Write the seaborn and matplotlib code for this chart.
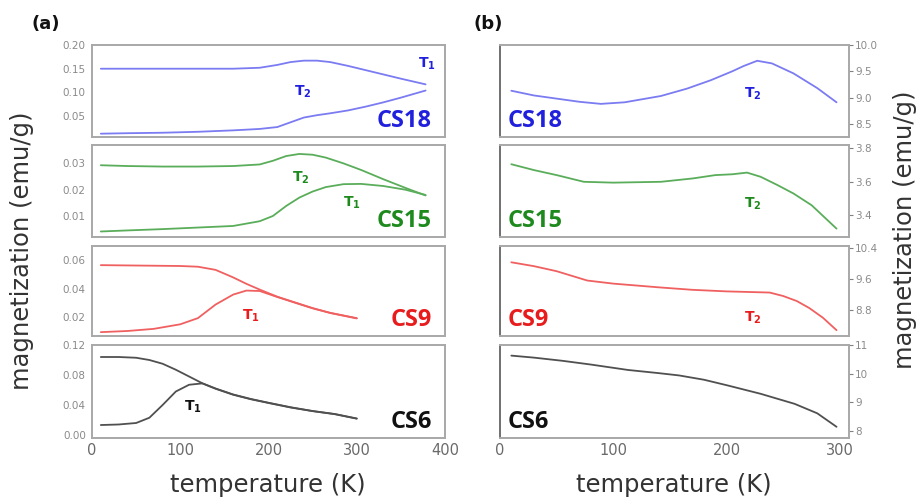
import numpy as np
import pandas as pd
import seaborn as sns
import matplotlib.pyplot as plt

# ---- (a) M(T), ZFC and FC ----
t_cs18_a = [10, 40, 80, 120, 160, 190, 210, 225, 240, 255, 270, 290, 310, 330, 350, 378]
cs18_fc = [0.150, 0.150, 0.150, 0.150, 0.150, 0.152, 0.158, 0.164, 0.167, 0.167, 0.164, 0.156, 0.147, 0.138, 0.129, 0.117]
cs18_zfc = [0.013, 0.014, 0.015, 0.017, 0.020, 0.023, 0.027, 0.037, 0.047, 0.052, 0.056, 0.062, 0.070, 0.079, 0.089, 0.104]

t_cs15_a = [10, 40, 80, 120, 160, 190, 205, 220, 235, 250, 265, 285, 305, 330, 355, 378]
cs15_fc = [0.0293, 0.0290, 0.0288, 0.0288, 0.0290, 0.0296, 0.0310, 0.0328, 0.0336, 0.0333, 0.0322, 0.0300, 0.0275, 0.0240, 0.0207, 0.0178]
cs15_zfc = [0.0041, 0.0045, 0.0050, 0.0056, 0.0062, 0.0080, 0.0100, 0.0138, 0.0170, 0.0193, 0.0210, 0.0221, 0.0222, 0.0214, 0.0200, 0.0180]

t_cs9_a = [10, 40, 70, 100, 120, 140, 160, 175, 190, 210, 230, 250, 270, 300]
cs9_fc = [0.0566, 0.0564, 0.0562, 0.0560, 0.0555, 0.0533, 0.0480, 0.0435, 0.0395, 0.0345, 0.0305, 0.0265, 0.0232, 0.0195]
cs9_zfc = [0.0097, 0.0105, 0.0120, 0.0152, 0.0195, 0.0290, 0.0360, 0.0388, 0.0385, 0.0343, 0.0303, 0.0264, 0.0231, 0.0193]

t_cs6_a = [10, 30, 50, 65, 80, 95, 110, 125, 140, 160, 180, 200, 225, 250, 275, 300]
cs6_fc = [0.104, 0.104, 0.103, 0.100, 0.095, 0.087, 0.078, 0.069, 0.062, 0.054, 0.048, 0.043, 0.037, 0.032, 0.028, 0.022]
cs6_zfc = [0.0133, 0.0140, 0.0160, 0.0230, 0.0400, 0.0580, 0.0670, 0.0688, 0.0617, 0.0537, 0.0477, 0.0427, 0.0367, 0.0318, 0.0278, 0.0218]

# ---- (b) high field M(T) ----
t_cs18_b = [10, 30, 50, 70, 89, 110, 142, 165, 186, 205, 215, 227, 240, 259, 280, 297]
cs18_b = [9.13, 9.04, 8.98, 8.92, 8.88, 8.91, 9.03, 9.17, 9.33, 9.50, 9.60, 9.70, 9.65, 9.46, 9.18, 8.91]
t_cs15_b = [10, 30, 50, 74, 100, 142, 170, 190, 205, 218, 230, 245, 259, 275, 297]
cs15_b = [3.705, 3.67, 3.64, 3.60, 3.595, 3.60, 3.62, 3.64, 3.645, 3.655, 3.63, 3.58, 3.53, 3.46, 3.32]
t_cs9_b = [10, 30, 50, 77, 100, 142, 170, 200, 238, 250, 262, 273, 285, 297]
cs9_b = [10.03, 9.93, 9.80, 9.56, 9.48, 9.38, 9.32, 9.28, 9.25, 9.16, 9.03, 8.85, 8.60, 8.28]
t_cs6_b = [10, 30, 55, 80, 113, 140, 158, 180, 201, 230, 260, 280, 297]
cs6_b = [10.63, 10.56, 10.45, 10.32, 10.13, 10.02, 9.94, 9.79, 9.59, 9.30, 8.95, 8.62, 8.15]

samples = ["CS18", "CS15", "CS9", "CS6"]
text_colors = ["#2020dd", "#1e8a1e", "#e81c1c", "#111111"]
line_colors = ["#7b7bf2", "#5aad5a", "#f06060", "#505050"]

left_data = [(t_cs18_a, cs18_fc, cs18_zfc), (t_cs15_a, cs15_fc, cs15_zfc),
             (t_cs9_a, cs9_fc, cs9_zfc), (t_cs6_a, cs6_fc, cs6_zfc)]
right_data = [(t_cs18_b, cs18_b), (t_cs15_b, cs15_b), (t_cs9_b, cs9_b), (t_cs6_b, cs6_b)]

left_ylims = [(0.006, 0.20), (0.002, 0.037), (0.007, 0.070), (-0.004, 0.12)]
left_yticks = [[0.05, 0.10, 0.15, 0.20], [0.01, 0.02, 0.03], [0.02, 0.04, 0.06], [0.00, 0.04, 0.08, 0.12]]
right_ylims = [(8.25, 10.0), (3.27, 3.82), (8.13, 10.45), (7.76, 11.0)]
right_yticks = [[8.5, 9.0, 9.5, 10.0], [3.4, 3.6, 3.8], [8.8, 9.6, 10.4], [8, 9, 10, 11]]
right_fmt = ["{:.1f}", "{:.1f}", "{:.1f}", "{:.0f}"]

# T labels: (text, x, y) in data coords
left_tlabels = [[("2", 239, 0.101), ("1", 379, 0.161)],
                [("2", 237, 0.0247), ("1", 294, 0.0149)],
                [("1", 180, 0.0214)],
                [("1", 114, 0.0373)]]
right_tlabels = [[("2", 223, 9.08)], [("2", 223, 3.47)], [("2", 223, 8.59)], []]

sns.set_style("white")
plt.rcParams['font.family'] = ['DejaVu Sans']

W, H = 921, 500
fig = plt.figure(figsize=(9.21, 5.0), dpi=100)
rows_px = [(45, 137), (145, 237), (246, 336), (345, 438)]
frame = "#a8a8a8"
tick_c = "#808080"


def style(ax):
    for s in ax.spines.values():
        s.set_color(frame)
        s.set_linewidth(1.4)
    ax.tick_params(axis="y", length=3, width=0.8, color=tick_c, labelcolor="#8a8a8a", labelsize=7.5, pad=1.5)
    ax.tick_params(axis="x", direction="in", length=3, width=0.8, color=tick_c, labelcolor="#6a6a6a", labelsize=10.5)


for i, (top, bot) in enumerate(rows_px):
    h = (bot - top) / H
    y0 = 1 - bot / H
    # left column
    ax = fig.add_axes([92 / W, y0, 353 / W, h])
    t, fc, zfc = left_data[i]
    sns.lineplot(x=t, y=fc, ax=ax, color=line_colors[i], lw=1.3)
    sns.lineplot(x=t, y=zfc, ax=ax, color=line_colors[i], lw=1.3)
    ax.set_xlim(0, 400)
    ax.set_ylim(*left_ylims[i])
    ax.set_yticks(left_yticks[i])
    ax.set_yticklabels(["{:.2f}".format(v) for v in left_yticks[i]])
    ax.set_xticks([0, 100, 200, 300, 400])
    ax.set_xticks([50, 150, 250, 350], minor=True)
    style(ax)
    ax.tick_params(axis="x", which="minor", direction="in", length=2, color=tick_c)
    if i < 3:
        ax.set_xticklabels([])
    ax.text(0.963, 0.11, samples[i], transform=ax.transAxes, ha="right", va="baseline",
            fontsize=17, fontweight="bold", family="Open Sans", color=text_colors[i])
    for sub, tx, ty in left_tlabels[i]:
        ax.text(tx, ty, r"$\mathbf{T_%s}$" % sub, ha="center", va="center",
                fontsize=10, color=text_colors[i])

    # right column
    ax2 = fig.add_axes([500 / W, y0, 349 / W, h])
    t, m = right_data[i]
    sns.lineplot(x=t, y=m, ax=ax2, color=line_colors[i], lw=1.3)
    ax2.set_xlim(0, 308)
    ax2.set_ylim(*right_ylims[i])
    ax2.set_yticks(right_yticks[i])
    ax2.set_yticklabels([right_fmt[i].format(v) for v in right_yticks[i]])
    ax2.yaxis.tick_right()
    ax2.set_xticks([0, 100, 200, 300])
    ax2.set_xticks([50, 150, 250], minor=True)
    style(ax2)
    ax2.spines["left"].set_color("#707070")
    ax2.tick_params(axis="x", which="minor", direction="in", length=2, color=tick_c)
    if i < 3:
        ax2.set_xticklabels([])
    ax2.text(0.023, 0.11, samples[i], transform=ax2.transAxes, ha="left", va="baseline",
             fontsize=17, fontweight="bold", family="Open Sans", color=text_colors[i])
    for sub, tx, ty in right_tlabels[i]:
        ax2.text(tx, ty, r"$\mathbf{T_%s}$" % sub, ha="center", va="center",
                 fontsize=10, color=text_colors[i])

lab_c = "#333333"
fig.text(22 / W, 1 - 251 / H, "magnetization (emu/g)", rotation=90, ha="center", va="center",
         fontsize=17.5, color=lab_c)
fig.text(905 / W, 1 - 230 / H, "magnetization (emu/g)", rotation=90, ha="center", va="center",
         fontsize=17.5, color=lab_c)
fig.text(268 / W, 1 - 485 / H, "temperature (K)", ha="center", va="center", fontsize=17.5, color=lab_c)
fig.text(674 / W, 1 - 485 / H, "temperature (K)", ha="center", va="center", fontsize=17.5, color=lab_c)
fig.text(46 / W, 1 - 24 / H, "(a)", ha="center", va="center", fontsize=13, fontweight="bold", color="#111111")
fig.text(488 / W, 1 - 24 / H, "(b)", ha="center", va="center", fontsize=13, fontweight="bold", color="#111111")

fig.savefig("out.png", dpi=100)
